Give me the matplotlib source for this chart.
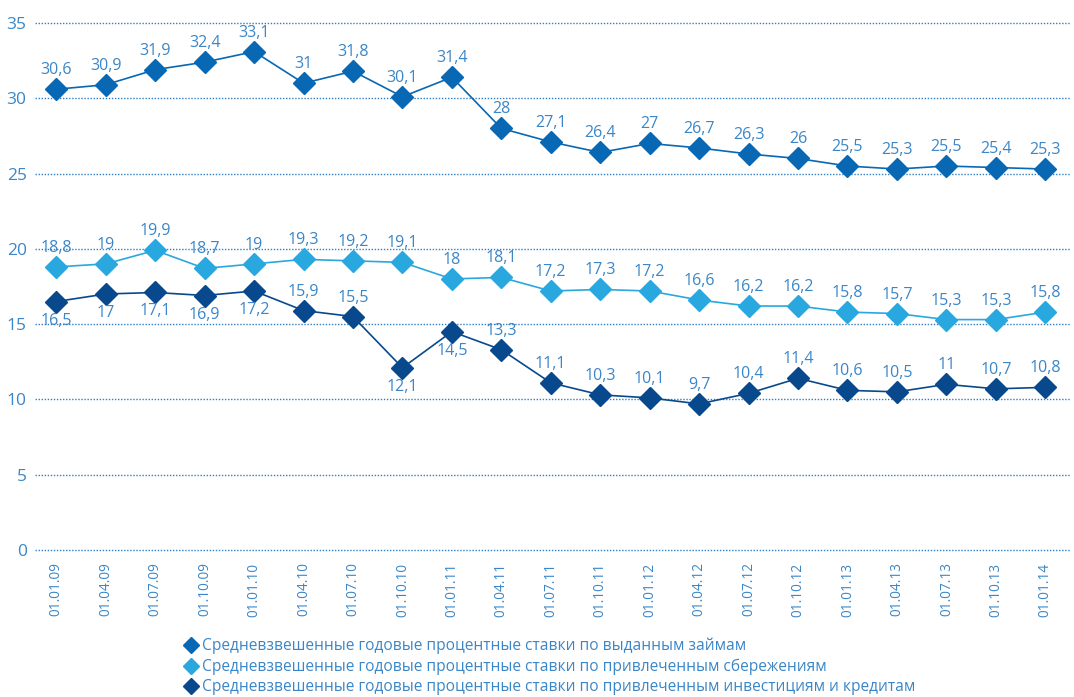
import numpy as np
import matplotlib.pyplot as plt
from matplotlib.lines import Line2D

plt.rcParams['font.family'] = ['Open Sans', 'DejaVu Sans']

dates = ['01.01.09', '01.04.09', '01.07.09', '01.10.09', '01.01.10', '01.04.10', '01.07.10',
         '01.10.10', '01.01.11', '01.04.11', '01.07.11', '01.10.11', '01.01.12', '01.04.12',
         '01.07.12', '01.10.12', '01.01.13', '01.04.13', '01.07.13', '01.10.13', '01.01.14']

loans = [30.6, 30.9, 31.9, 32.4, 33.1, 31, 31.8, 30.1, 31.4, 28, 27.1, 26.4, 27, 26.7,
         26.3, 26, 25.5, 25.3, 25.5, 25.4, 25.3]
savings = [18.8, 19, 19.9, 18.7, 19, 19.3, 19.2, 19.1, 18, 18.1, 17.2, 17.3, 17.2, 16.6,
           16.2, 16.2, 15.8, 15.7, 15.3, 15.3, 15.8]
invest = [16.5, 17, 17.1, 16.9, 17.2, 15.9, 15.5, 12.1, 14.5, 13.3, 11.1, 10.3, 10.1, 9.7,
          10.4, 11.4, 10.6, 10.5, 11, 10.7, 10.8]

names = ['Средневзвешенные годовые процентные ставки по выданным займам',
         'Средневзвешенные годовые процентные ставки по привлеченным сбережениям',
         'Средневзвешенные годовые процентные ставки по привлеченным инвестициям и кредитам']
colors = ['#0868b3', '#29a8e0', '#08498e']
text_col = '#3a86c8'

# which labels of the third series go below the marker
invest_below = [0, 1, 2, 3, 4, 7, 8]

fig = plt.figure(figsize=(10.74, 6.97), dpi=100)
ax = fig.add_axes([0.0326, 0.211, 0.9637, 0.756])
x = np.arange(len(dates))

for vals, col in zip([loans, savings, invest], colors):
    ax.plot(x, vals, color=col, lw=1.2, marker='D', ms=11, mec=col, mfc=col,
            clip_on=False, zorder=3)

def fmt(v):
    return ('%g' % v).replace('.', ',')

for series, below in [(loans, []), (savings, []), (invest, invest_below)]:
    for i, v in enumerate(series):
        dy = -19 if i in below else 19
        ax.annotate(fmt(v), (i, v), xytext=(0, dy), textcoords='offset pixels',
                    ha='center', va='center', fontsize=11.5, color=text_col, zorder=4)

ax.set_xlim(-0.43, 20.5)
ax.set_ylim(0, 35)
ax.set_yticks(range(0, 36, 5))
ax.set_xticks(x)
ax.set_xticklabels(dates, rotation=90, fontsize=9.8, color=text_col)
ax.tick_params(axis='y', labelsize=12.5, labelcolor=text_col, length=0, pad=6)
ax.tick_params(axis='x', length=0, pad=9)
ax.yaxis.grid(True, linestyle=(0, (1, 1.2)), color='#2f7fc4', lw=1.0)
ax.set_axisbelow(True)
for s in ax.spines.values():
    s.set_visible(False)
for gl in ax.yaxis.get_gridlines():
    gl.set_clip_on(False)

handles = [Line2D([], [], ls='none', marker='D', ms=8, color=c) for c in colors]
leg = fig.legend(handles, names, loc='upper left', bbox_to_anchor=(0.166, 0.096),
                 bbox_transform=fig.transFigure, frameon=False, fontsize=11.2,
                 handlelength=0.6, handletextpad=0.4, labelspacing=0.28, borderpad=0)
for t in leg.get_texts():
    t.set_color(text_col)

fig.savefig('out.png', dpi=100)
